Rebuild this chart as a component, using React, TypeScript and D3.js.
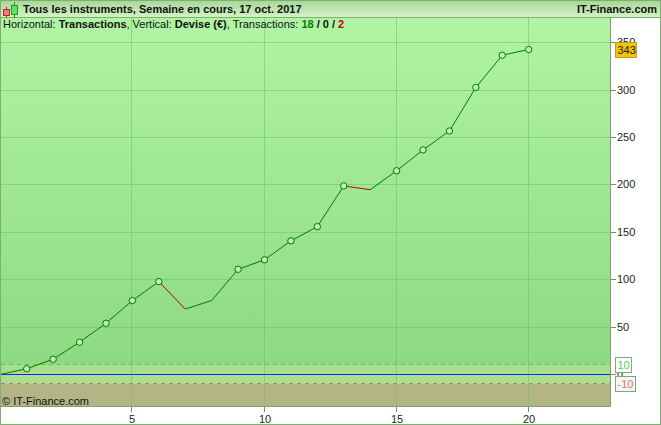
import React, { useEffect, useRef } from 'react';
import * as d3 from 'd3';

const trades = [0, 1, 2, 3, 4, 5, 6, 7, 8, 9, 10, 11, 12, 13, 14, 15, 16, 17, 18, 19, 20];
const equity = [0, 6, 16, 34, 54, 78, 98, 69, 78, 111, 121, 141, 156, 199, 195, 215, 237, 257, 303, 337, 343];
const xTicks = [5, 10, 15, 20];
const yTicks = [0, 50, 100, 150, 200, 250, 300, 350];

const WIDTH = 661;
const HEIGHT = 425;
const FRAME = '#7fae74';

const App: React.FC = () => {
  const svgRef = useRef<SVGSVGElement>(null);

  useEffect(() => {
    if (!svgRef.current) return;
    document.body.style.margin = '0';

    const svg = d3.select(svgRef.current);
    svg.selectAll('*').remove();

    const plot = { left: 1, right: 610, top: 18, bottom: 406 };
    const x = d3.scaleLinear().domain([0, 20]).range([-0.2, 528.2]);
    const y = d3.scaleLinear().domain([0, 350]).range([374.4, 42.9]);
    const snap = (v: number) => Math.floor(v) + 0.5;
    const font = 'Liberation Sans, Arial, sans-serif';

    const defs = svg.append('defs');
    const bg = defs.append('linearGradient').attr('id', 'bg').attr('x1', 0).attr('x2', 0).attr('y1', 0).attr('y2', 1);
    bg.append('stop').attr('offset', '0%').attr('stop-color', '#b0f4a4');
    bg.append('stop').attr('offset', '100%').attr('stop-color', '#8ed983');
    const head = defs.append('linearGradient').attr('id', 'head').attr('x1', 0).attr('x2', 0).attr('y1', 0).attr('y2', 1);
    head.append('stop').attr('offset', '0%').attr('stop-color', '#a6d796');
    head.append('stop').attr('offset', '100%').attr('stop-color', '#d4f3c8');

    svg.append('rect').attr('width', WIDTH).attr('height', HEIGHT).attr('fill', '#fff');

    // Plot background and zones around zero
    svg.append('rect').attr('x', plot.left).attr('y', plot.top).attr('width', plot.right - plot.left)
      .attr('height', y(10) - plot.top).attr('fill', 'url(#bg)');
    svg.append('rect').attr('x', plot.left).attr('y', y(10)).attr('width', plot.right - plot.left)
      .attr('height', y(-10) - y(10)).attr('fill', '#a6e08f');
    svg.append('rect').attr('x', plot.left).attr('y', y(-10)).attr('width', plot.right - plot.left)
      .attr('height', plot.bottom - y(-10)).attr('fill', '#b4b585');

    // Grid
    svg.append('g').selectAll('line').data(xTicks).enter().append('line')
      .attr('x1', (d) => snap(x(d))).attr('x2', (d) => snap(x(d)))
      .attr('y1', plot.top).attr('y2', plot.bottom)
      .attr('stroke', '#6fbf68').attr('stroke-opacity', 0.55);
    svg.append('g').selectAll('line').data(yTicks.filter((d) => d > 0)).enter().append('line')
      .attr('x1', plot.left).attr('x2', plot.right)
      .attr('y1', (d) => snap(y(d))).attr('y2', (d) => snap(y(d)))
      .attr('stroke', '#6fbf68').attr('stroke-opacity', 0.55);

    // Zone limits and zero line
    svg.append('line').attr('x1', plot.left).attr('x2', plot.right)
      .attr('y1', snap(y(10))).attr('y2', snap(y(10)))
      .attr('stroke', '#4fd04f').attr('stroke-dasharray', '4 4');
    svg.append('line').attr('x1', plot.left).attr('x2', plot.right)
      .attr('y1', snap(y(-10))).attr('y2', snap(y(-10)))
      .attr('stroke', '#d8705f').attr('stroke-dasharray', '4 4');
    svg.append('line').attr('x1', plot.left).attr('x2', plot.right)
      .attr('y1', snap(y(0))).attr('y2', snap(y(0)))
      .attr('stroke', '#2222ee');

    // Plot frame
    svg.append('path')
      .attr('d', `M${plot.right + 0.5},${plot.top} V${plot.bottom + 0.5} H0`)
      .attr('fill', 'none').attr('stroke', '#8a9a68');

    // Axes, ticks snapped to the same pixels as the grid
    const xAxis = d3.axisBottom(x.copy().range([-0.7, 527.7]).interpolate(d3.interpolateRound))
      .tickValues(xTicks).tickSize(5).tickPadding(3);
    const gx = svg.append('g').attr('transform', `translate(0,${plot.bottom + 1})`).call(xAxis);
    const yAxis = d3.axisRight(y.copy().range([373.9, 42.4]).interpolate(d3.interpolateRound))
      .tickValues(yTicks).tickSize(5).tickPadding(1);
    const gy = svg.append('g').attr('transform', `translate(${plot.right + 1},0)`).call(yAxis);
    [gx, gy].forEach((g) => {
      g.select('.domain').remove();
      g.selectAll('line').attr('stroke', '#5e9e58');
      g.selectAll('text').attr('font-family', font).attr('font-size', 11).attr('fill', '#222');
    });
    gx.selectAll('text').attr('dx', 0.5);

    // Equity line, red where a trade lost money
    const pts = trades.map((t, i) => ({ t, v: equity[i] }));
    svg.append('g').selectAll('line').data(pts.slice(1)).enter().append('line')
      .attr('x1', (d, i) => x(pts[i].t) + 0.5).attr('y1', (d, i) => y(pts[i].v))
      .attr('x2', (d) => x(d.t) + 0.5).attr('y2', (d) => y(d.v))
      .attr('stroke', (d, i) => (d.v < pts[i].v ? '#c00010' : '#007a00'))
      .attr('stroke-width', 1);

    // Markers only on new highs
    let high = 0;
    const highs = pts.filter((d) => {
      if (d.v <= high) return false;
      high = d.v;
      return true;
    });
    svg.append('g').selectAll('circle').data(highs).enter().append('circle')
      .attr('cx', (d) => x(d.t) + 0.5).attr('cy', (d) => y(d.v)).attr('r', 3.2)
      .attr('fill', '#bdf4ad').attr('stroke', '#007a00').attr('stroke-width', 1);

    // Header
    svg.append('rect').attr('x', 0.5).attr('y', 0.5).attr('width', WIDTH - 1).attr('height', 17)
      .attr('fill', 'url(#head)').attr('stroke', FRAME);
    svg.append('rect').attr('x', 0.5).attr('y', 0.5).attr('width', WIDTH - 1).attr('height', HEIGHT - 1)
      .attr('fill', 'none').attr('stroke', FRAME);

    // Candle icon
    svg.append('line').attr('x1', 6.5).attr('x2', 6.5).attr('y1', 7).attr('y2', 18).attr('stroke', '#c22');
    svg.append('rect').attr('x', 3.5).attr('y', 9.5).attr('width', 6).attr('height', 6).attr('fill', '#f08080').attr('stroke', '#c22');
    svg.append('line').attr('x1', 14.5).attr('x2', 14.5).attr('y1', 2).attr('y2', 18).attr('stroke', '#1a9a1a');
    svg.append('rect').attr('x', 11.5).attr('y', 5.5).attr('width', 6).attr('height', 9).attr('fill', '#66e066').attr('stroke', '#1a9a1a');

    svg.append('text').attr('x', 23).attr('y', 13).attr('font-family', font).attr('font-size', 11)
      .attr('font-weight', 'bold').attr('fill', '#111').text('Tous les instruments, Semaine en cours, 17 oct. 2017');
    svg.append('text').attr('x', 657).attr('y', 13).attr('text-anchor', 'end').attr('font-family', font)
      .attr('font-size', 11).attr('font-weight', 'bold').attr('fill', '#111').text('IT-Finance.com');

    // Sub title
    const sub = svg.append('text').attr('x', 3).attr('y', 28).attr('font-family', font).attr('font-size', 11).attr('fill', '#111');
    sub.append('tspan').text('Horizontal: ');
    sub.append('tspan').attr('font-weight', 'bold').text('Transactions');
    sub.append('tspan').text(', Vertical: ');
    sub.append('tspan').attr('font-weight', 'bold').text('Devise (€)');
    sub.append('tspan').text(', Transactions: ');
    sub.append('tspan').attr('font-weight', 'bold').attr('fill', '#008000').text('18');
    sub.append('tspan').attr('font-weight', 'bold').text(' / 0 / ');
    sub.append('tspan').attr('font-weight', 'bold').attr('fill', '#c00').text('2');

    svg.append('text').attr('x', 2).attr('y', 405).attr('font-family', font).attr('font-size', 11)
      .attr('fill', '#111').text('© IT-Finance.com');

    // Value labels on the right
    const labels = [
      { v: 10, text: '10', fill: '#fff', stroke: FRAME, color: '#55cc55', w: 16 },
      { v: -10, text: '-10', fill: '#f4f4f4', stroke: FRAME, color: '#e07a70', w: 20 },
      { v: 343, text: '343', fill: '#f5c400', stroke: '#b9a030', color: '#222', w: 21 },
    ];
    const lab = svg.append('g').selectAll('g').data(labels).enter().append('g')
      .attr('transform', (d) => `translate(615.5,${snap(y(d.v))})`);
    lab.append('rect').attr('x', 0).attr('y', -7).attr('width', (d) => d.w).attr('height', 15)
      .attr('fill', (d) => d.fill).attr('stroke', (d) => d.stroke);
    lab.append('text').attr('x', 2).attr('y', 4.5).attr('font-family', font).attr('font-size', 11)
      .attr('fill', (d) => d.color).text((d) => d.text);
  }, []);

  return <svg ref={svgRef} width={WIDTH} height={HEIGHT} style={{ display: 'block' }}></svg>;
};

export default App;
